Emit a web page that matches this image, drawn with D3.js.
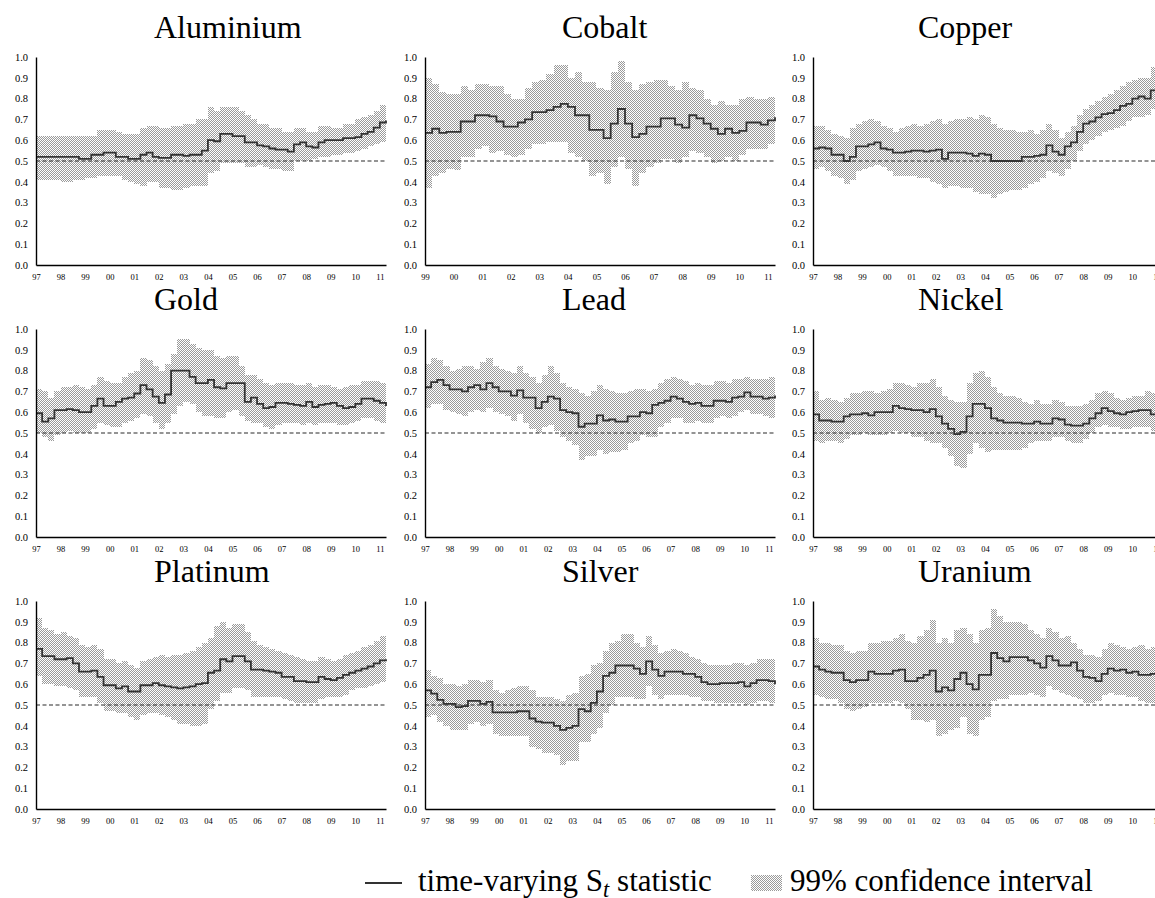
<!DOCTYPE html>
<html>
<head>
<meta charset="utf-8">
<script src="https://cdn.jsdelivr.net/npm/d3@7"></script>
<style>
  html, body { margin: 0; padding: 0; background: #fff; }
  svg { display: block; }
</style>
</head>
<body>
<svg id="chart" width="1155" height="898"></svg>
<script>
// ---- panel names and sample start (quarterly observations up to 2011Q2) ----
const commodities = ["Aluminium", "Cobalt", "Copper", "Gold", "Lead", "Nickel", "Platinum", "Silver", "Uranium"];
const startYears  = [1997, 1999, 1997, 1997, 1997, 1997, 1997, 1997, 1997];
const endYear = 2011.25;
const stepYears = 0.25;
const yTicks = [0.0, 0.1, 0.2, 0.3, 0.4, 0.5, 0.6, 0.7, 0.8, 0.9, 1.0];
const refLevel = 0.5;
const legendLabels = ["time-varying S", "t", " statistic", "99% confidence interval"];

// ---- time-varying S_t statistic and 99% confidence bounds ----
const aluminiumStat  = [.52,.52,.52,.52, .52,.52,.52,.51, .51,.53,.53,.54, .54,.52,.52,.51, .51,.53,.54,.52, .515,.515,.53,.53, .525,.53,.53,.55, .60,.595,.63,.63, .62,.62,.59,.59, .575,.57,.56,.555, .555,.545,.58,.59, .57,.565,.59,.60, .60,.60,.61,.61, .615,.63,.64,.66, .685,.695];
const aluminiumUpper = [.62,.62,.62,.62, .62,.62,.62,.62, .62,.62,.65,.65, .65,.64,.63,.63, .63,.66,.67,.67, .66,.66,.67,.67, .68,.68,.70,.70, .76,.74,.76,.76, .76,.74,.72,.70, .68,.68,.66,.66, .64,.64,.66,.66, .64,.64,.67,.67, .66,.66,.68,.68, .70,.71,.72,.74, .77,.78];
const aluminiumLower = [.41,.41,.41,.41, .40,.40,.41,.41, .42,.42,.43,.43, .43,.43,.41,.40, .39,.38,.40,.40, .37,.37,.36,.36, .37,.38,.38,.38, .44,.45,.49,.49, .49,.49,.47,.47, .48,.47,.46,.46, .45,.45,.50,.50, .50,.51,.52,.52, .53,.53,.54,.54, .55,.56,.57,.58, .59,.59];

const cobaltStat  = [.635,.655,.635,.64, .64,.69,.69,.72, .72,.715,.69,.665, .665,.685,.70,.735, .735,.745,.76,.775, .76,.72,.72,.65, .65,.61,.68,.75, .68,.615,.63,.665, .665,.705,.705,.675, .66,.72,.705,.68, .655,.63,.655,.635, .645,.685,.685,.675, .695,.71];
const cobaltUpper = [.90,.87,.83,.82, .82,.86,.84,.87, .87,.86,.86,.82, .80,.80,.85,.88, .89,.92,.96,.96, .90,.93,.88,.88, .85,.84,.93,.98, .88,.84,.87,.88, .89,.89,.86,.84, .88,.85,.84,.80, .77,.79,.77,.77, .80,.81,.80,.80, .81,.81];
const cobaltLower = [.37,.43,.44,.46, .455,.52,.52,.56, .57,.54,.55,.53, .52,.53,.56,.58, .58,.59,.59,.59, .54,.52,.50,.43, .44,.39,.47,.52, .46,.38,.44,.47, .49,.51,.51,.49, .52,.55,.54,.52, .49,.50,.52,.50, .53,.56,.56,.56, .58,.60];

const copperStat  = [.56,.565,.56,.53, .53,.50,.52,.57, .57,.58,.59,.56, .555,.54,.54,.545, .55,.55,.545,.55, .555,.51,.54,.54, .54,.535,.525,.535, .53,.50,.50,.50, .50,.50,.52,.52, .525,.53,.575,.545, .53,.57,.59,.64, .68,.69,.71,.725, .73,.745,.765,.775, .80,.81,.80,.84, .885,.88];
const copperUpper = [.67,.67,.65,.63, .62,.61,.66,.68, .69,.70,.69,.67, .66,.64,.66,.67, .68,.67,.68,.69, .70,.68,.69,.70, .70,.71,.70,.72, .71,.68,.66,.65, .65,.64,.64,.65, .63,.65,.68,.65, .61,.64,.67,.72, .75,.77,.79,.81, .82,.84,.86,.88, .89,.90,.90,.95, .98,.98];
const copperLower = [.46,.47,.45,.43, .42,.39,.41,.45, .46,.47,.48,.47, .45,.43,.43,.43, .43,.42,.42,.40, .39,.37,.38,.38, .37,.37,.35,.34, .34,.32,.34,.35, .36,.36,.37,.39, .40,.42,.45,.44, .43,.46,.50,.55, .58,.60,.62,.64, .65,.66,.67,.69, .71,.71,.72,.75, .78,.77];

const goldStat  = [.595,.555,.57,.61, .61,.615,.61,.60, .60,.63,.665,.63, .63,.65,.665,.67, .69,.73,.71,.675, .645,.685,.80,.80, .80,.77,.74,.74, .755,.72,.715,.74, .74,.74,.65,.67, .64,.62,.625,.645, .645,.64,.635,.63, .65,.625,.635,.64, .645,.63,.62,.625, .64,.665,.665,.655, .645,.63];
const goldUpper = [.71,.70,.67,.70, .72,.72,.73,.72, .71,.73,.77,.75, .74,.74,.77,.79, .80,.86,.85,.82, .80,.83,.88,.95, .95,.93,.91,.90, .90,.87,.86,.87, .87,.82,.78,.78, .76,.74,.73,.74, .74,.74,.73,.73, .74,.72,.73,.73, .72,.71,.72,.73, .73,.75,.75,.75, .74,.73];
const goldLower = [.50,.48,.46,.49, .50,.51,.50,.50, .50,.52,.55,.54, .53,.53,.55,.56, .57,.59,.58,.55, .52,.55,.59,.63, .65,.64,.60,.58, .58,.57,.57,.60, .61,.58,.56,.55, .55,.53,.52,.54, .55,.55,.55,.54, .55,.54,.55,.55, .55,.54,.54,.55, .56,.57,.57,.56, .55,.52];

const leadStat  = [.72,.745,.755,.73, .71,.71,.70,.72, .73,.71,.74,.72, .70,.70,.68,.705, .67,.67,.62,.65, .675,.665,.61,.60, .595,.53,.545,.545, .585,.56,.565,.555, .555,.58,.58,.60, .595,.635,.645,.655, .675,.665,.65,.64, .645,.63,.63,.655, .655,.65,.67,.675, .695,.675,.675,.665, .67,.68];
const leadUpper = [.83,.86,.85,.82, .80,.81,.82,.82, .81,.84,.86,.82, .81,.80,.79,.82, .79,.77,.74,.78, .82,.79,.74,.72, .71,.69,.68,.70, .73,.71,.70,.69, .69,.70,.71,.71, .70,.71,.74,.76, .77,.76,.75,.73, .74,.73,.73,.75, .75,.74,.76,.76, .77,.76,.76,.76, .77,.78];
const leadLower = [.62,.64,.64,.61, .60,.59,.58,.60, .61,.60,.62,.60, .59,.58,.56,.59, .55,.52,.50,.53, .54,.51,.48,.46, .44,.37,.39,.39, .42,.40,.41,.41, .42,.45,.46,.49, .48,.48,.53,.55, .57,.57,.55,.55, .56,.55,.55,.57, .58,.57,.58,.60, .61,.59,.59,.58, .57,.58];

const nickelStat  = [.59,.56,.56,.555, .555,.58,.59,.59, .595,.585,.60,.60, .60,.63,.62,.615, .61,.61,.60,.615, .58,.545,.52,.495, .505,.58,.64,.64, .62,.57,.56,.55, .55,.55,.545,.545, .555,.545,.545,.57, .565,.54,.535,.535, .545,.57,.595,.62, .605,.595,.59,.60, .605,.61,.61,.59, .61,.61];
const nickelUpper = [.70,.66,.67,.66, .65,.67,.69,.69, .70,.70,.69,.70, .71,.74,.74,.73, .72,.74,.74,.76, .72,.68,.66,.65, .65,.74,.79,.80, .77,.72,.69,.68, .68,.67,.65,.64, .66,.64,.64,.66, .65,.63,.63,.63, .64,.66,.69,.70, .69,.67,.66,.67, .68,.68,.70,.69, .69,.70];
const nickelLower = [.46,.45,.46,.46, .45,.47,.49,.49, .50,.49,.49,.49, .50,.51,.50,.50, .48,.48,.46,.45, .45,.43,.39,.34, .33,.40,.45,.43, .41,.42,.42,.42, .42,.42,.43,.45, .46,.46,.46,.48, .48,.46,.45,.45, .47,.50,.53,.54, .53,.53,.52,.52, .53,.53,.53,.51, .52,.52];

const platinumStat  = [.77,.735,.735,.72, .72,.725,.70,.66, .66,.665,.635,.595, .595,.58,.59,.565, .565,.595,.595,.605, .595,.59,.585,.58, .585,.59,.60,.605, .655,.665,.72,.71, .735,.735,.71,.67, .67,.665,.66,.655, .635,.635,.615,.615, .61,.61,.635,.625, .62,.63,.645,.655, .665,.675,.685,.70, .715,.72];
const platinumUpper = [.92,.87,.86,.84, .85,.83,.82,.79, .78,.79,.77,.72, .72,.70,.71,.69, .68,.71,.72,.73, .74,.73,.74,.74, .75,.76,.78,.80, .82,.88,.90,.87, .89,.89,.85,.81, .79,.78,.77,.76, .75,.74,.73,.72, .71,.71,.73,.72, .71,.72,.74,.75, .76,.78,.79,.81, .83,.84];
const platinumLower = [.64,.60,.60,.59, .59,.58,.57,.54, .54,.54,.51,.47, .47,.46,.46,.44, .43,.45,.46,.46, .45,.44,.43,.41, .41,.40,.40,.41, .48,.52,.56,.56, .58,.58,.57,.54, .54,.54,.54,.54, .53,.52,.51,.51, .51,.51,.53,.54, .54,.54,.55,.57, .58,.58,.59,.60, .61,.62];

const silverStat  = [.57,.555,.525,.505, .505,.49,.495,.52, .52,.505,.515,.465, .465,.465,.465,.47, .47,.435,.42,.415, .415,.40,.38,.39, .40,.48,.47,.51, .565,.64,.655,.69, .69,.69,.675,.65, .71,.67,.64,.66, .66,.66,.65,.65, .635,.61,.60,.60, .605,.605,.605,.61, .59,.605,.62,.62, .615,.60];
const silverUpper = [.67,.64,.63,.60, .60,.59,.60,.62, .62,.61,.62,.57, .56,.57,.58,.59, .59,.57,.54,.54, .54,.53,.52,.55, .56,.64,.65,.69, .70,.76,.80,.81, .84,.84,.80,.78, .83,.79,.75,.76, .77,.76,.75,.73, .72,.70,.69,.69, .69,.69,.70,.70, .69,.70,.72,.72, .72,.71];
const silverLower = [.44,.45,.42,.40, .38,.38,.38,.41, .42,.40,.41,.36, .35,.35,.35,.35, .35,.30,.29,.27, .27,.26,.21,.23, .23,.32,.32,.36, .39,.46,.50,.54, .54,.54,.53,.53, .59,.55,.53,.55, .55,.55,.55,.54, .54,.52,.52,.51, .51,.51,.51,.51, .50,.51,.52,.52, .51,.50];

const uraniumStat  = [.685,.67,.66,.655, .655,.62,.61,.62, .62,.66,.65,.65, .65,.665,.67,.615, .615,.63,.645,.665, .565,.585,.57,.625, .655,.60,.575,.645, .645,.75,.725,.71, .73,.73,.73,.715, .70,.68,.735,.715, .69,.69,.705,.665, .635,.63,.615,.65, .675,.665,.67,.655, .66,.645,.645,.65, .62,.62];
const uraniumUpper = [.82,.80,.80,.79, .79,.76,.75,.76, .76,.80,.80,.81, .81,.82,.84,.81, .80,.83,.86,.91, .80,.82,.80,.86, .87,.84,.80,.86, .87,.96,.93,.90, .90,.90,.89,.86, .84,.82,.87,.85, .82,.83,.80,.77, .74,.74,.73,.77, .80,.79,.78,.77, .78,.79,.77,.78, .79,.78];
const uraniumLower = [.55,.54,.53,.53, .51,.48,.47,.48, .49,.51,.51,.51, .51,.52,.51,.48, .43,.43,.42,.43, .35,.36,.38,.39, .44,.36,.35,.43, .44,.52,.53,.53, .55,.55,.55,.56, .55,.54,.59,.57, .56,.55,.54,.53, .51,.51,.52,.55, .56,.55,.55,.54, .54,.52,.51,.51, .50,.48];

const statSeries  = [aluminiumStat, cobaltStat, copperStat, goldStat, leadStat, nickelStat, platinumStat, silverStat, uraniumStat];
const upperSeries = [aluminiumUpper, cobaltUpper, copperUpper, goldUpper, leadUpper, nickelUpper, platinumUpper, silverUpper, uraniumUpper];
const lowerSeries = [aluminiumLower, cobaltLower, copperLower, goldLower, leadLower, nickelLower, platinumLower, silverLower, uraniumLower];

// ---- typography ----
const FONT = '"Liberation Serif", serif';
const titleSize = 32;
const yTickSize = 10.5;
const xTickSize = 8.5;
const legendSize = 31;

function serif(sel) {
  return sel.style("font-family", FONT);
}

// ---- grid layout ----
const colX = [36, 425, 813];
const rowY = [57, 329, 601];
const titleX = [154, 562, 918];
const plotW = 350, plotH = 208;

const svg = d3.select("#chart");

// stippled fill used for the confidence band
const defs = svg.append("defs");
const pat = defs.append("pattern")
  .attr("id", "stipple")
  .attr("patternUnits", "userSpaceOnUse")
  .attr("width", 2).attr("height", 2);
pat.append("rect").attr("width", 2).attr("height", 2).attr("fill", "#ffffff");
pat.append("rect").attr("x", 0).attr("y", 0).attr("width", 1).attr("height", 1).attr("fill", "#9a9a9a");
pat.append("rect").attr("x", 1).attr("y", 1).attr("width", 1).attr("height", 1).attr("fill", "#9a9a9a");

const y = d3.scaleLinear().domain([0, 1]).range([plotH, 0]);

commodities.forEach((name, i) => {
  const col = i % 3, row = Math.floor(i / 3);
  const start = startYears[i];
  const stat = statSeries[i], upper = upperSeries[i], lower = lowerSeries[i];
  const rows = stat.map((v, k) => ({ t: start + k * stepYears, s: v, hi: upper[k], lo: lower[k] }));

  const x = d3.scaleLinear().domain([start, endYear]).range([0, plotW]);
  const g = svg.append("g").attr("transform", `translate(${colX[col]},${rowY[row]})`);

  // title
  serif(svg.append("text"))
    .attr("x", titleX[col])
    .attr("y", rowY[row] - 19)
    .attr("font-size", titleSize)
    .text(name);

  // confidence band
  g.append("path")
    .datum(rows)
    .attr("fill", "url(#stipple)")
    .attr("shape-rendering", "crispEdges")
    .attr("d", d3.area().curve(d3.curveStepAfter)
      .x(d => x(d.t)).y0(d => y(d.lo)).y1(d => y(d.hi)));

  // reference level
  g.append("line")
    .attr("x1", 0).attr("x2", plotW)
    .attr("y1", y(refLevel)).attr("y2", y(refLevel))
    .attr("stroke", "#2a2a2a").attr("stroke-width", 1.2)
    .attr("stroke-dasharray", "4,2.5");

  // statistic
  g.append("path")
    .datum(rows)
    .attr("fill", "none")
    .attr("stroke", "#333")
    .attr("stroke-width", 1.8)
    .attr("d", d3.line().curve(d3.curveStepAfter).x(d => x(d.t)).y(d => y(d.s)));

  // axes
  const years = d3.range(start, 2012);
  const xAxis = d3.axisBottom(x)
    .tickValues(years)
    .tickFormat(d => String(d % 100).padStart(2, "0"))
    .tickSize(0).tickSizeOuter(0).tickPadding(9);
  const gx = g.append("g").attr("transform", `translate(0,${plotH})`).call(xAxis);
  gx.attr("font-family", null).attr("font-size", null);
  gx.select(".domain").attr("stroke", "#000").attr("stroke-width", 1.4);
  serif(gx.selectAll("text")).attr("font-size", xTickSize).attr("fill", "#000");

  const yAxis = d3.axisLeft(y)
    .tickValues(yTicks)
    .tickFormat(d3.format(".1f"))
    .tickSize(0).tickSizeOuter(0).tickPadding(8);
  const gy = g.append("g").call(yAxis);
  gy.attr("font-family", null).attr("font-size", null);
  gy.select(".domain").attr("stroke", "#000").attr("stroke-width", 1.4);
  serif(gy.selectAll("text")).attr("font-size", yTickSize).attr("fill", "#000");
});

// ---- legend ----
const legBase = 891;
svg.append("line")
  .attr("x1", 365).attr("x2", 402).attr("y1", legBase - 8).attr("y2", legBase - 8)
  .attr("stroke", "#333").attr("stroke-width", 1.8);
const t1 = serif(svg.append("text")).attr("x", 418).attr("y", legBase)
  .attr("font-size", legendSize);
t1.append("tspan").text(legendLabels[0]);
t1.append("tspan").style("font-style", "italic").attr("font-size", legendSize * 0.72)
  .attr("dy", legendSize * 0.18).text(legendLabels[1]);
t1.append("tspan").attr("dy", -legendSize * 0.18).text(legendLabels[2]);
svg.append("rect")
  .attr("x", 751).attr("y", legBase - 16).attr("width", 31).attr("height", 16)
  .attr("fill", "url(#stipple)");
serif(svg.append("text")).attr("x", 790).attr("y", legBase)
  .attr("font-size", legendSize)
  .text(legendLabels[3]);
</script>
</body>
</html>
